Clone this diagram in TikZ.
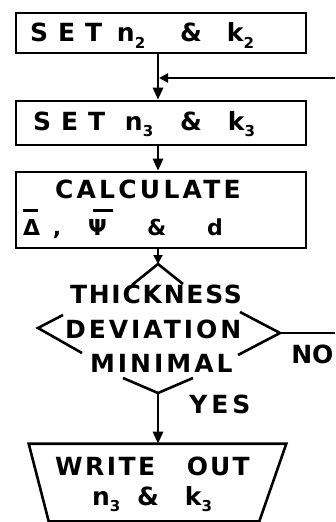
\documentclass[tikz,border=0pt]{standalone}
\usepackage{fontspec}
\setmainfont{DejaVu Sans}
\usetikzlibrary{arrows.meta}
\newcommand\lett[2]{{\addfontfeature{LetterSpace=#1}#2}}
\newcommand\lowsub[1]{\raisebox{-6pt}{\fontsize{15}{15}\selectfont #1}}
\newcommand\tok[3]{\makebox[0pt][l]{\hspace*{#1}\raisebox{#2}[0pt][0pt]{#3}}}
\begin{document}
\begin{tikzpicture}[x=1pt,y=-1pt,line width=2.6pt,
  box/.style={draw, inner sep=0pt, minimum width=290pt},
  txt/.style={inner sep=0pt, font=\fontsize{25}{30}\selectfont\bfseries},
  small/.style={font=\fontsize{22}{26}\selectfont\bfseries},
  arr/.style={-{Triangle[length=12pt,width=10pt]}},
  arrs/.style={-{Triangle[length=9pt,width=9pt]}},
]
\useasboundingbox (0,0) rectangle (335,522);

% boxes
\node[box, txt, minimum height=40pt] (b1) at (161,33)
  {\tok{-131pt}{-9pt}{\lett{40}{SET}}\tok{-44pt}{-9pt}{n\lowsub{2}}\tok{19pt}{-9pt}{\&}\tok{66pt}{-9pt}{k\lowsub{2}}};
\node[box, txt, minimum height=44pt] (b2) at (161,123)
  {\tok{-128pt}{-7pt}{\lett{40}{SET}}\tok{-36pt}{-7pt}{n\lowsub{3}}\tok{19pt}{-7pt}{\&}\tok{67pt}{-7pt}{k\lowsub{3}}};
\node[box, txt, minimum height=76pt] (b3) at (161,210)
  {\tok{-106pt}{12pt}{\lett{13}{CALCULATE}}%
   \tok{-138pt}{-1.5pt}{\rule{15pt}{2.6pt}}%
   \tok{-138pt}{-25pt}{\fontsize{22}{26}\selectfont Δ}%
   \tok{-108pt}{-25pt}{\fontsize{22}{26}\selectfont ,}%
   \tok{-68pt}{-1.5pt}{\rule{20pt}{2.6pt}}%
   \tok{-73pt}{-25pt}{\fontsize{22}{26}\selectfont Ψ}%
   \tok{-14pt}{-25pt}{\fontsize{22}{26}\selectfont \&}%
   \tok{46pt}{-25pt}{\fontsize{22}{26}\selectfont d}};

% decision
\node[txt] (dec) at (159,330)
  {\tok{-89pt}{27pt}{\lett{7}{THICKNESS}}\tok{-94pt}{-8pt}{\lett{12}{DEVIATION}}\tok{-69pt}{-42pt}{\lett{12}{MINIMAL}}};
\coordinate (dtop) at (158,264);
\coordinate (dleft) at (38,328);
\coordinate (dright) at (280,333);
\coordinate (dbot) at (158,393);
\draw (132,285) -- (dtop) -- (183,284);
\draw (63,315) -- (dleft) -- (82,353);
\draw (240,312) -- (dright) -- (238,355);
\draw (123,378) -- (dbot) -- (193,378);
\node[txt, anchor=base west] (no) at (290,363) {NO};
\node[txt, anchor=base west] (yes) at (188,413) {\lett{16}{YES}};

% output
\node[txt, minimum width=255pt, minimum height=75pt] (wo) at (157.5,482.5)
  {\tok{-102.5pt}{7.5pt}{\lett{10}{WRITE}}\tok{29.5pt}{7.5pt}{\lett{8}{OUT}}%
   \tok{-65.5pt}{-22.5pt}{n\lowsub{3}}\tok{-20.5pt}{-22.5pt}{\&}\tok{27.5pt}{-22.5pt}{k\lowsub{3}}};
\draw (wo.north west) -- (wo.north east) -- ([xshift=-27pt]wo.south east)
  -- ([xshift=20pt]wo.south west) -- cycle;

% connectors
\coordinate (j1) at (158,78);
\coordinate (fbin) at (335,78);
\coordinate (noend) at (335,333);
\draw[arr] (b1.south -| j1) -- (b2.north -| j1);
\draw[arrs, shorten >=1pt] (fbin) -- (j1);
\draw[arr] (b2.south -| j1) -- (b3.north -| j1);
\draw[arrs] (b3.south -| dtop) -- (dtop);
\draw (dright) -- (noend);
\draw[arr] (dbot) -- (dbot |- wo.north);
\end{tikzpicture}
\end{document}
